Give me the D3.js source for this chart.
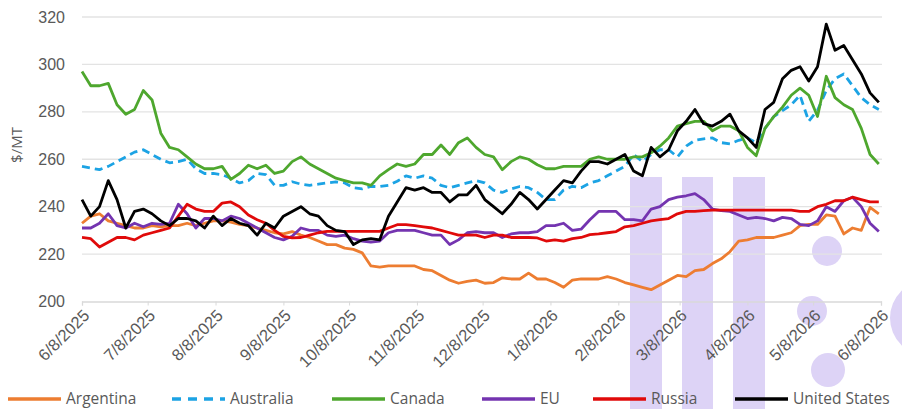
<!DOCTYPE html>
<html><head><meta charset="utf-8">
<script src="https://cdn.jsdelivr.net/npm/d3@7"></script>
<style>body{margin:0;background:#fff}svg{display:block;font-family:"Open Sans",sans-serif}</style>
</head><body><svg id="c" width="902" height="409"></svg>
<script>
const tickLabels = ["6/8/2025","7/8/2025","8/8/2025","9/8/2025","10/8/2025","11/8/2025","12/8/2025","1/8/2026","2/8/2026","3/8/2026","4/8/2026","5/8/2026","6/8/2026"];
const yTicks = [200,220,240,260,280,300,320];
const seriesNames = ["Argentina","Australia","Canada","EU","Russia","United States"];
// observation dates: every 4 days from 6/8/2025
const dates = d3.timeDay.range(new Date(2025,5,8), new Date(2026,5,8), 4);

const argentina = [233,236,237,234,233,232,231,231,232,231.5,232,232,233,232,233,234,234,233.5,232.5,232,231,230,229,228.5,229.5,228,227,225.5,224,224,222.5,222,220.5,215,214.5,215,215,215,215,213.5,213,211,209,207.7,208.5,209,207.7,208,210,209.5,209.5,212,209.5,209.5,208,206,209,209.5,209.5,209.5,210.5,209.5,208,207,206,205,207,209,211,210.5,213,213.5,216,218,221,225.5,226,227,227,227,228,229,232,232.5,232.5,236.5,236,228.5,231,230,239.7,237];
const australia = [257,256.3,255.6,257,259,261,263,264,262,260,258.5,259,260,256,254,254,253.5,252,250,251,254,253.5,249,249,250.5,249.5,249,249.5,250,250.5,250,248,247.5,248.5,248.5,249,250.7,253,252,253,252,249,248,249,250,251,250,247,246,247.5,248.5,248,246,243,243,247,248.6,248,250,251,253,255,257,262,259,262,264,264,261,265.5,268,268.6,269,267,266.5,268,269,267,273,278,280.5,283,287,276,280.6,289,294,296,291,286,283,281];
const canada = [297,291,291,292,283,279,281,289,285,271,265,264,261,258,256,256,257,251.5,254,257.5,256,257.5,254,255,259,261,258,256,254,252,251,250,250,249,253,255.6,258,257,258,262,262,266,262,267,269,265,262,261,255.6,259,261,260,257.7,256,256,257,257,257,260,261,260,260,260,261,261,262.7,265.5,269,274,275,276,276,272,274,274,272,265,261.5,273,278,282,287,290,287,278,295,286,283,281,273,262,258];
const eu = [231,231,233,237,232,231,233,231.5,233,232.5,233,241,237,231,235,235,234,236,235,233,231,229,227,226,227.5,231,230,230,228,227.5,228,226.5,225.5,225,225.5,229,230,230,230,229,228,228,224,226,229,229.5,229,229,227,228.5,229,229,229.5,232,232,233,230,230.5,234.5,238,238,238,234.5,234.5,234,239,240,243,244,244.6,245.5,243,239,238.3,238,236.5,235,235.5,235,234,235.5,235,232.5,232,234,240,238,242.5,244,240,233,229.5];
const russia = [227,226.5,223,225,227,227,226,228,229,230,231,236,241,239,238,238,241.5,242,240,236.5,234.5,233,230,227.5,226.8,227,228,229,229.6,229.6,229.6,229.6,229.6,229.6,229.6,231,232.4,232.4,232,231.5,231,230,229,228,228,228,227,228,228,227,227,227,226.8,225.5,226,225.5,226.5,227,228.2,228.5,229,229.5,231.5,232,233,234,234.5,235,237,238,238,238.3,238.5,238.5,238.5,238.5,238.5,238.5,238.5,238.5,238.5,238.5,238,238,240,241,242.5,242.5,244,243,242,242];
const unitedStates = [243,236,240,251,243,231,238,239,237,234,232,235,235,234,231,236,232,235,233,232,228,233,231,236,238,240,237,236,232,230,229.5,224,226,226.5,226,236,242,248,247,248,246,246,242,245,245,249,243,240,237,241,246,243,239,243,247,251,250,255,259,259,258,260,262,255,253,265,261,264,272,276,281,275,274,276,279,272,269,265,281,284,294,297.5,299,293,299,317,306,308,302,296,288,284];

const colors = ["#ED7D31","#1CA3E4","#4EA72E","#7434B0","#E00A0A","#000000"];
const values = [argentina, australia, canada, eu, russia, unitedStates];

const svg = d3.select("#c");
const parse = d3.timeParse("%m/%d/%Y");
const tickDates = tickLabels.map(parse);
const x = d3.scaleTime().domain([tickDates[0], tickDates[tickDates.length-1]]).range([82, 881]);
const y = d3.scaleLinear().domain([200, 320]).range([301.5, 17]);

// watermark (behind)
const wm = svg.append("g").attr("fill", "#ddd3f6");
[[630,662],[682,713],[733,765]].forEach(([a,b]) => wm.append("rect").attr("x",a).attr("y",177).attr("width",b-a).attr("height",240));
[[827,251,15],[812,311,15],[828,370,17],[928,318,38]].forEach(([cx,cy,r]) => wm.append("circle").attr("cx",cx).attr("cy",cy).attr("r",r));

// grid
svg.append("g").selectAll("line").data(yTicks.filter(d => d > 200)).join("line")
  .attr("x1", 82).attr("x2", 882).attr("y1", d => y(d)).attr("y2", d => y(d))
  .attr("stroke", "#e3e3e3").attr("stroke-width", 1.3);

// x axis
const xAxis = d3.axisBottom(x).tickValues(tickDates).tickSize(4).tickFormat((d,i) => tickLabels[i]);
const gx = svg.append("g").attr("transform", `translate(0,${y(200)})`).call(xAxis);
gx.select(".domain").attr("stroke", "#d9d9d9").attr("stroke-width", 1.3);
gx.selectAll(".tick line").attr("stroke", "#d9d9d9");
gx.selectAll(".tick text").attr("fill", "#595959").style("font-size", "16.5px")
  .attr("text-anchor", "end").attr("dy", null).attr("y", 0)
  .attr("transform", "translate(8,15) rotate(-45)");

// y axis
const yAxis = d3.axisLeft(y).tickValues(yTicks).tickSize(0).tickPadding(0);
const gy = svg.append("g").attr("transform", "translate(65,0)").call(yAxis);
gy.select(".domain").remove();
gy.selectAll(".tick text").attr("fill", "#595959").style("font-size", "16px");

svg.append("text").attr("transform", "translate(22,145) rotate(-90)").attr("text-anchor", "middle")
  .attr("fill", "#595959").style("font-size", "15px").text("$/MT");

// lines
const line = d3.line().x((d,i) => x(dates[i])).y(d => y(d)).curve(d3.curveLinear);
values.forEach((vals, s) => {
  svg.append("path").datum(vals).attr("d", line).attr("fill", "none")
    .attr("stroke", colors[s]).attr("stroke-width", 2.8).attr("stroke-linejoin", "round")
    .attr("stroke-dasharray", s === 1 ? "8,5" : null);
});

// legend
const legendX = [8, 172, 332, 482, 593, 735];
const lg = svg.append("g").attr("transform", "translate(0,399)");
seriesNames.forEach((n, s) => {
  const g = lg.append("g").attr("transform", `translate(${legendX[s]},0)`);
  g.append("line").attr("x1", 0).attr("x2", 53).attr("y1", 0).attr("y2", 0)
    .attr("stroke", colors[s]).attr("stroke-width", 3.5).attr("stroke-dasharray", s === 1 ? "9,7" : null);
  g.append("text").attr("x", 58).attr("y", 5).attr("fill", "#595959").style("font-size", "15.5px").text(n);
});
</script></body></html>
